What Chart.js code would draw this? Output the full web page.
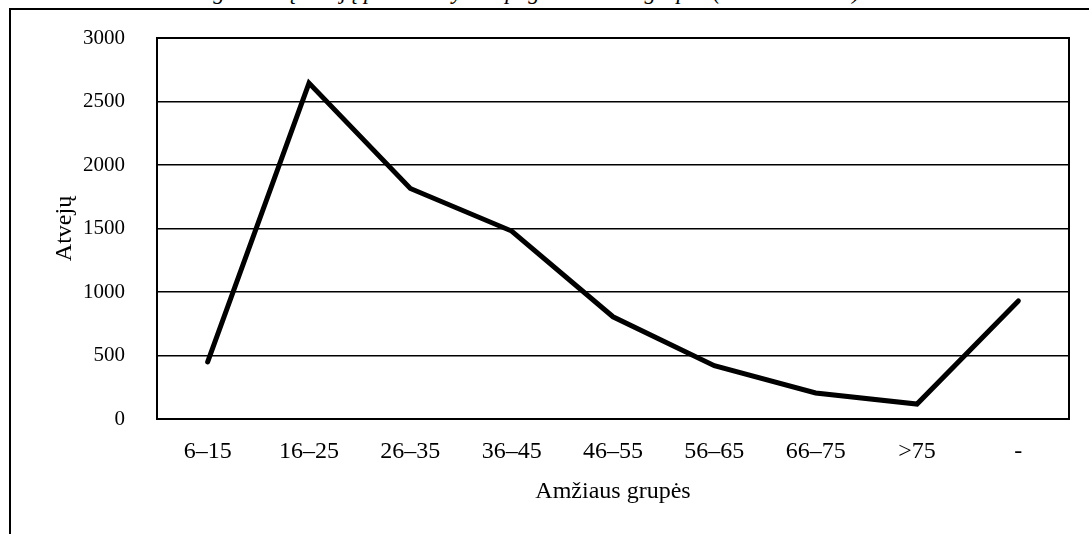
<!DOCTYPE html>
<html lang="lt">
<head>
  <meta charset="UTF-8">
  <title>Atvejų pasiskirstymas pagal amžiaus grupes</title>
  <script src="https://cdn.jsdelivr.net/npm/chart.js"></script>
  <style>
    html, body {
      margin: 0;
      padding: 0;
      background: #fff;
      overflow: hidden;
    }
    #wrap {
      position: relative;
      width: 1089px;
      height: 534px;
    }
    #frame {
      position: absolute;
      left: 9px;
      top: 8px;
      width: 1100px;
      height: 600px;
      border-left: 2px solid #000;
      border-top: 2px solid #000;
    }
    #title {
      position: absolute;
      left: -20px;
      width: 1089px;
      top: -21px;
      text-align: center;
      font-family: "Liberation Serif", serif;
      font-style: italic;
      font-size: 23px;
      white-space: nowrap;
    }
    canvas {
      position: absolute;
      left: 0;
      top: 0;
    }
  </style>
</head>
<body>
  <div id="wrap">
    <div id="title">Registruotų atvejų pasiskirstymas pagal amžiaus grupes (2000–2009 m.)</div>
    <div id="frame"></div>
    <canvas id="ageChart" width="1089" height="534"></canvas>
  </div>

  <script>
    const ageGroups = ['6–15', '16–25', '26–35', '36–45', '46–55', '56–65', '66–75', '>75', '-'];
    const cases = [450, 2645, 1815, 1480, 805, 420, 205, 118, 930];
    const yTicks = [0, 500, 1000, 1500, 2000, 2500, 3000];

    const family = '"Liberation Serif", "Times New Roman", serif';
    const tickFontY = { family: family, size: 21 };
    const bigFont = { family: family, size: 24 };

    // ramelis aplink braižymo sritį
    const plotBox = {
      id: 'plotBox',
      afterDraw(chart) {
        const a = chart.chartArea;
        const c = chart.ctx;
        c.save();
        c.strokeStyle = '#000';
        c.lineWidth = 2;
        c.strokeRect(a.left, a.top, a.right - a.left, a.bottom - a.top);
        c.restore();
      }
    };

    const ctx = document.getElementById('ageChart').getContext('2d');
    new Chart(ctx, {
      type: 'line',
      data: {
        labels: ageGroups,
        datasets: [{
          data: cases,
          borderColor: '#000',
          borderWidth: 5,
          borderCapStyle: 'round',
          borderJoinStyle: 'miter',
          pointRadius: 0,
          tension: 0,
          fill: false
        }]
      },
      options: {
        responsive: false,
        animation: false,
        layout: { padding: { left: 0, top: 38, right: 20, bottom: 0 } },
        plugins: {
          legend: { display: false },
          tooltip: { enabled: false }
        },
        scales: {
          x: {
            offset: true,
            grid: { display: false, drawTicks: false },
            border: { display: false },
            ticks: { color: '#000', font: bigFont, padding: 18, maxRotation: 0 },
            title: { display: true, text: 'Amžiaus grupės', color: '#000', font: bigFont, padding: { top: 0, bottom: 28 } },
            afterFit(scale) {
              scale.height = 115;
              scale.paddingLeft = 0;
              scale.paddingRight = 0;
            }
          },
          y: {
            min: 0,
            max: 3000,
            afterBuildTicks(scale) { scale.ticks = yTicks.map(v => ({ value: v })); },
            grid: { color: '#000', lineWidth: 1.5, drawTicks: false },
            border: { display: false },
            ticks: { color: '#000', font: tickFontY, padding: 32, callback: v => String(v) },
            title: { display: true, text: 'Atvejų', color: '#000', font: bigFont, padding: { top: 50, bottom: 0 } },
            afterFit(scale) {
              scale.width = 157;
              scale.paddingTop = 0;
              scale.paddingBottom = 0;
            }
          }
        }
      },
      plugins: [plotBox]
    });
  </script>
</body>
</html>
